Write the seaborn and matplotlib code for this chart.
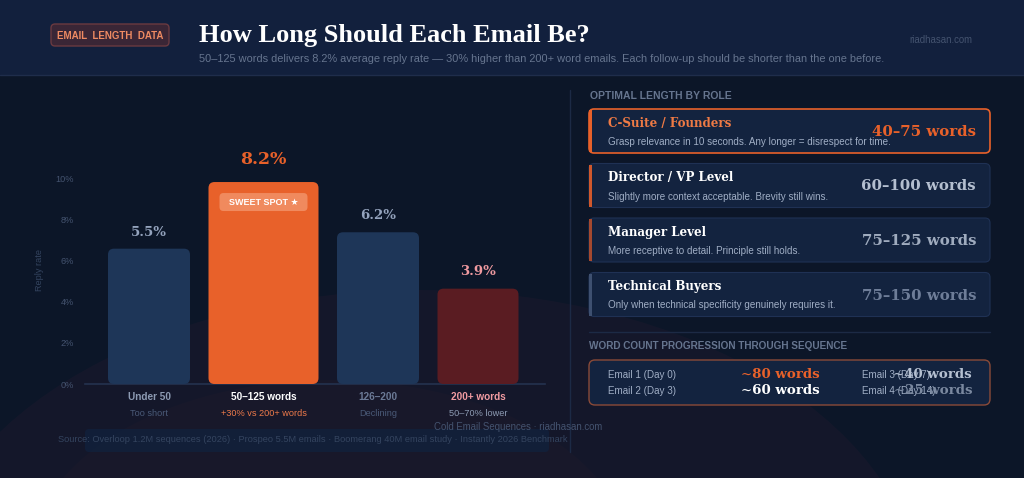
import matplotlib.pyplot as plt
import numpy as np
import seaborn as sns
from matplotlib.patches import FancyBboxPatch, Rectangle, Ellipse

# --- chart data ---
categories = ["Under 50", "50–125 words", "126–200", "200+ words"]
cat_notes = ["Too short", "+30% vs 200+ words", "Declining", "50–70% lower"]
reply_rate = ["5.5%", "8.2%", "6.2%", "3.9%"]      # printed above each bar
bar_height = [6.6, 9.85, 7.4, 4.65]                 # bar tops
y_ticks = [0, 2, 4, 6, 8, 10]

roles = ["C-Suite / Founders", "Director / VP Level", "Manager Level", "Technical Buyers"]
role_notes = [
    "Grasp relevance in 10 seconds. Any longer = disrespect for time.",
    "Slightly more context acceptable. Brevity still wins.",
    "More receptive to detail. Principle still holds.",
    "Only when technical specificity genuinely requires it.",
]
role_words = ["40–75 words", "60–100 words", "75–125 words", "75–150 words"]

emails = ["Email 1 (Day 0)", "Email 2 (Day 3)", "Email 3 (Day 7)", "Email 4 (Day 14)"]
email_words = ["~80 words", "~60 words", "~40 words", "~25 words"]

# --- styles ---
BG = "#0c1628"
BAND = "#12203d"
CARD = "#13233f"
LINE = "#1c2a45"
ORANGE = "#e8612a"
SANS = ["Liberation Sans", "DejaVu Sans"]
SERIF = ["DejaVu Serif"]

bar_colors = ["#1e3658", ORANGE, "#1e3658", "#5a1c22"]
rate_colors = ["#94a3bd", ORANGE, "#94a3bd", "#f09aa0"]
rate_sizes = [9.5, 12.5, 9.5, 9.5]
cat_colors = ["#8d9bb3", "white", "#6b7a96", "#f29ca2"]
note_colors = ["#4a5a78", "#ee7a4a", "#4a5a78", "#8d9bb3"]

sns.set_theme(style="dark", rc={"axes.facecolor": "none", "figure.facecolor": BG})
plt.rcParams["font.family"] = SANS

fig = plt.figure(figsize=(10.24, 4.78), dpi=100, facecolor=BG)

# full-figure pixel canvas for decoration
bg = fig.add_axes([0, 0, 1, 1], zorder=0)
bg.set_xlim(0, 1024)
bg.set_ylim(478, 0)
bg.axis("off")

bg.add_patch(Ellipse((420, 600), 1000, 620, fc="#15182b", ec="none", alpha=0.9))
bg.add_patch(Ellipse((330, 560), 600, 360, fc="#1c1a2b", ec="none", alpha=0.5))

# header band
bg.add_patch(Rectangle((0, 0), 1024, 75, fc=BAND, ec="none"))
bg.plot([0, 1024], [75, 75], color="#1f2d4b", lw=1)
bg.add_patch(FancyBboxPatch((51, 24), 118, 22, boxstyle="round,pad=0,rounding_size=4",
                            fc="#3a2636", ec="#6a3a40", lw=1))
bg.text(110, 35.5, "EMAIL  LENGTH  DATA", color="#ee8a62", fontsize=7.0, fontweight="bold",
        ha="center", va="center", family=SANS)
bg.text(199, 35, "How Long Should Each Email Be?", color="white", fontsize=19,
        fontweight="bold", ha="left", va="center", family=["Liberation Serif"])
bg.text(199, 59, "50–125 words delivers 8.2% average reply rate — 30% higher than 200+ word emails. "
        "Each follow-up should be shorter than the one before.",
        color="#66758f", fontsize=7.9, ha="left", va="center", family=SANS)
bg.text(972, 40, "riadhasan.com", color="#44536f", fontsize=6.9, ha="right", va="center", family=SANS)

# --- bar chart ---
ax_l, ax_r, ax_b, ax_t = 85, 545, 384, 140
ax = fig.add_axes([ax_l / 1024, (478 - ax_b) / 478, (ax_r - ax_l) / 1024, (ax_b - ax_t) / 478], zorder=2)
sns.barplot(x=categories, y=bar_height, hue=categories, palette=bar_colors, legend=False,
            width=0.72, ax=ax, saturation=1)
ymax = 11.9
ax.set_xlim(-0.5, 3.5)
ax.set_ylim(0, ymax)
xu = 4 / (ax_r - ax_l)        # x units per pixel
yu = ymax / (ax_b - ax_t)     # y units per pixel
aspect = yu / xu

# flex-style layout: widths in pixels with a fixed gap
widths_px = [82, 110, 82, 81]
gap_px = 18.5
lefts = []
cur = -0.3
for w in widths_px:
    lefts.append(cur)
    cur += (w + gap_px) * xu

for i, p in enumerate(list(ax.patches)):
    h = p.get_height()
    fc = p.get_facecolor()
    p.remove()
    w = widths_px[i] * xu
    ax.add_patch(FancyBboxPatch((lefts[i], 0), w, h,
                                boxstyle=f"round,pad=0,rounding_size={6 * xu}",
                                mutation_aspect=aspect, fc=fc, ec="none", zorder=3))
    cx = lefts[i] + w / 2
    off = 16 if i == 1 else 12
    ax.annotate(reply_rate[i], (cx, h), xytext=(0, off), textcoords="offset points",
                ha="center", va="center", color=rate_colors[i], fontsize=rate_sizes[i],
                fontweight="bold", family=SERIF, annotation_clip=False)
    ax.annotate(categories[i], (cx, 0), xytext=(0, -9), textcoords="offset points",
                ha="center", va="center", color=cat_colors[i], fontsize=7.2,
                fontweight="bold", family=SANS, annotation_clip=False)
    ax.annotate(cat_notes[i], (cx, 0), xytext=(0, -21.5), textcoords="offset points",
                ha="center", va="center", color=note_colors[i], fontsize=6.6,
                family=SANS, annotation_clip=False)
    if i == 1:
        bw = (widths_px[i] - 22) * xu
        ax.add_patch(FancyBboxPatch((lefts[i] + 11 * xu, h - 29 * yu), bw, 18 * yu,
                                    boxstyle=f"round,pad=0,rounding_size={4 * xu}",
                                    mutation_aspect=aspect, fc="#f08a5e", ec="none", zorder=4))
        ax.text(cx, h - 20 * yu, "SWEET SPOT ★", color="white", fontsize=6.5, fontweight="bold",
                ha="center", va="center", family=SANS, zorder=5)

ax.set_yticks(y_ticks)
ax.set_yticklabels([f"{t}%" for t in y_ticks])
ax.set_xticks([])
ax.tick_params(axis="y", length=0, pad=8, labelsize=6.6, labelcolor="#44536f")
ax.set_xlabel("")
ax.set_ylabel("")
ax.grid(False)
for s in ["top", "right", "left"]:
    ax.spines[s].set_visible(False)
ax.spines["bottom"].set_color("#24324f")
ax.spines["bottom"].set_linewidth(1.2)

bg.text(40, 270, "Reply rate", rotation=90, color="#34445f", fontsize=6.6, ha="center",
        va="center", family=SANS)

# footer
bg.add_patch(FancyBboxPatch((85, 429), 464, 23, boxstyle="round,pad=0,rounding_size=4",
                            fc="#10223f", ec="none", alpha=0.7))
bg.text(58, 439, "Source: Overloop 1.2M sequences (2026) · Prospeo 5.5M emails · Boomerang 40M email study "
        "· Instantly 2026 Benchmark", color="#34445f", fontsize=6.7, ha="left", va="center", family=SANS)
bg.text(602, 427, "Cold Email Sequences · riadhasan.com", color="#44536f", fontsize=6.9,
        ha="right", va="center", family=SANS)

# --- right panel ---
bg.plot([570, 570], [90, 452], color=LINE, lw=1)
bg.text(590, 96, "OPTIMAL LENGTH BY ROLE", color="#66758f", fontsize=7.5, fontweight="bold",
        ha="left", va="center", family=SANS)

accent = [ORANGE, "#d0582c", "#a5492f", "#3e5070"]
title_colors = ["#ee7a45", "white", "white", "white"]
word_colors = [ORANGE, "#b4bfd0", "#9fabbe", "#6e7d98"]
for i in range(len(roles)):
    top = 109 + i * 54.5
    ec = ORANGE if i == 0 else "#1f3154"
    lw = 1.2 if i == 0 else 0.8
    bg.add_patch(FancyBboxPatch((589, top), 401, 44, boxstyle="round,pad=0,rounding_size=5",
                                fc=CARD, ec=ec, lw=lw))
    bg.add_patch(Rectangle((589, top + 1), 3, 42, fc=accent[i], ec="none"))
    bg.text(608, top + 14, roles[i], color=title_colors[i], fontsize=8.6, fontweight="bold",
            ha="left", va="center", family=SERIF)
    bg.text(608, top + 33, role_notes[i], color="#a0aec5", fontsize=7.1, ha="left",
            va="center", family=SANS)
    bg.text(976, top + 23, role_words[i], color=word_colors[i], fontsize=10.8, fontweight="bold",
            ha="right", va="center", family=SERIF)

bg.plot([589, 990], [332, 332], color=LINE, lw=1)
bg.text(589, 346, "WORD COUNT PROGRESSION THROUGH SEQUENCE", color="#66758f", fontsize=7.2,
        fontweight="bold", ha="left", va="center", family=SANS)
bg.add_patch(FancyBboxPatch((589, 360), 401, 45, boxstyle="round,pad=0,rounding_size=6",
                            fc=CARD, ec="#8a4a38", lw=1))

email_colors = [ORANGE, "white", "#b4bfd0", "#7a889f"]
for i in range(len(emails)):
    col = i // 2
    y = 375 if i % 2 == 0 else 391
    if col == 0:
        bg.text(608, y, emails[i], color="#a0aec5", fontsize=7.1, ha="left", va="center", family=SANS)
        bg.text(780, y, email_words[i], color=email_colors[i], fontsize=9.6, fontweight="bold",
                ha="center", va="center", family=SERIF)
    else:
        bg.text(862, y, emails[i], color="#a0aec5", fontsize=7.1, ha="left", va="center", family=SANS)
        bg.text(972, y, email_words[i], color=email_colors[i], fontsize=9.6, fontweight="bold",
                ha="right", va="center", family=SERIF)

plt.savefig("out.png", dpi=100, facecolor=BG)
